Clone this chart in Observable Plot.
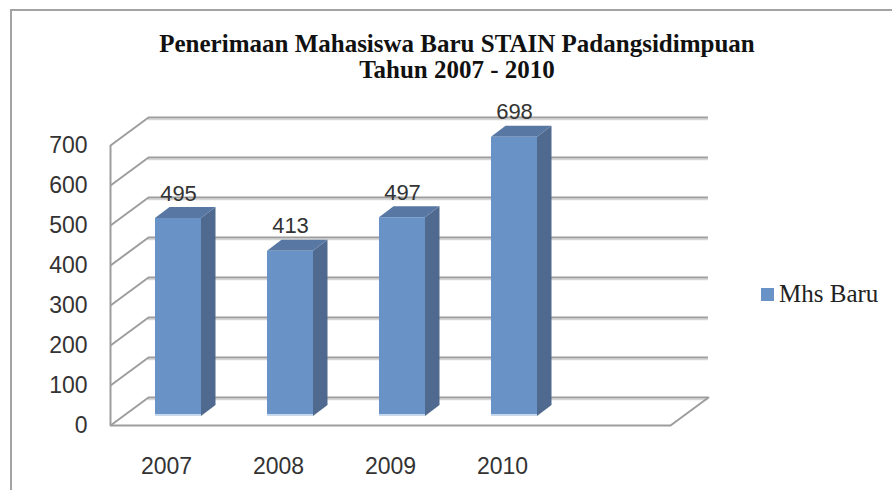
<!DOCTYPE html>
<html>
<head>
<meta charset="utf-8">
<script src="https://cdn.jsdelivr.net/npm/d3@7"></script>
<script src="https://cdn.jsdelivr.net/npm/@observablehq/plot@0.6"></script>
<style>
  html, body { margin: 0; padding: 0; background: #fff; }
  #wrap { position: relative; width: 892px; height: 490px; overflow: hidden; }
  #frame { position: absolute; left: 10px; top: 9px; width: 900px; height: 500px;
           border-left: 2px solid #a3a3a3; border-top: 2px solid #a3a3a3; }
  #title { position: absolute; left: 0; width: 914px; top: 31px; text-align: center;
           font-family: "Liberation Serif", "Times New Roman", serif; font-weight: bold;
           font-size: 25px; line-height: 26px; color: #111; }
  #legend { position: absolute; left: 761px; top: 280px; font-family: "Liberation Serif", serif;
            font-size: 25px; color: #222; white-space: nowrap; }
  #legend .sw { display: inline-block; width: 13px; height: 13px; background: #6993c6;
                margin-right: 5px; vertical-align: 1px; }
  #chart { position: absolute; left: 0; top: 0; }
</style>
</head>
<body>
<div id="wrap">
  <div id="frame"></div>
  <div id="chart"></div>
  <div id="title">Penerimaan Mahasiswa Baru STAIN Padangsidimpuan<br>Tahun 2007 - 2010</div>
  <div id="legend"><span class="sw"></span>Mhs Baru</div>
</div>
<script>
// ---- data ----
const years = ["2007", "2008", "2009", "2010"];
const mhsBaru = [495, 413, 497, 698];
const yTicks = [0, 100, 200, 300, 400, 500, 600, 700];
const seriesName = "Mhs Baru";

// ---- geometry (pixel -> data unit helpers) ----
const W = 892, H = 490;
const mL = 110, mR = W - 670, mT = 145, mB = H - 425;
const nSlots = 5;
const pxPerX = (W - mL - mR) / nSlots;   // 112
const pxPerY = (H - mT - mB) / 700;      // 0.4
const PX = p => p / pxPerX;
const PY = p => p / pxPerY;

const bx = PX(38), by = PY(28);      // back wall offset
const half = PX(23);                  // half bar width
const ddx = PX(14.5), ddy = PY(11);   // bar depth
const fdx = 12, fdy = -9;             // bar front plane offset (px)

const bars = years.map((yr, i) => ({i, yr, v: mhsBaru[i], xl: i + 0.5 - half, xr: i + 0.5 + half, xc: i + 0.5}));
const sideFaces = bars.flatMap(b => [
  {i: b.i, x: b.xr, y1: 0, y2: b.v},
  {i: b.i, x: b.xr + ddx, y1: ddy, y2: b.v + ddy}
]);
const topFaces = bars.flatMap(b => [
  {i: b.i, y: b.v, xa: b.xl, xb: b.xr},
  {i: b.i, y: b.v + ddy, xa: b.xl + ddx, xb: b.xr + ddx}
]);

const grid = "#9d9d9d";

const chart = Plot.plot({
  width: W, height: H,
  marginLeft: mL, marginRight: mR, marginTop: mT, marginBottom: mB,
  x: {type: "linear", domain: [0, nSlots]},
  y: {type: "linear", domain: [0, 700]},
  style: {fontFamily: "'Liberation Sans', Arial, sans-serif", fontSize: "23px", color: "#333", background: "transparent", overflow: "visible"},
  marks: [
    // back wall gridlines (with light shadow)
    Plot.ruleY(yTicks, {y: d => d + by, x1: bx, x2: nSlots + bx, stroke: "#d6d6d6", strokeWidth: 1.5, dy: 2}),
    Plot.ruleY(yTicks, {y: d => d + by, x1: bx, x2: nSlots + bx, stroke: grid, strokeWidth: 2}),
    // left wall diagonals
    Plot.link(yTicks, {x1: 0, y1: d => d, x2: bx, y2: d => d + by, stroke: grid, strokeWidth: 2}),
    // front-left vertical axis
    Plot.ruleX([0], {y1: 0, y2: 700, stroke: grid, strokeWidth: 2}),
    // floor front edge + right diagonal
    Plot.line([{x: 0, y: 0}, {x: nSlots, y: 0}, {x: nSlots + bx, y: by}], {x: "x", y: "y", stroke: grid, strokeWidth: 2}),
    // bars: side, top, front
    Plot.area(sideFaces, {x1: "x", y1: "y1", y2: "y2", z: "i", fill: "#4f6a8e", dx: fdx, dy: fdy}),
    Plot.area(topFaces, {y1: "y", x1: "xa", x2: "xb", z: "i", fill: "#5878a3", dx: fdx, dy: fdy}),
    Plot.rect(bars, {x1: "xl", x2: "xr", y1: 0, y2: "v", fill: "#6993c6", dx: fdx, dy: fdy}),
    Plot.rect(bars, {x1: "xl", x2: "xr", y1: 0, y2: PY(2), fill: "#c9d8ec", dx: fdx, dy: fdy}),
    // value labels
    Plot.text(bars, {x: "xc", y: "v", text: d => String(d.v), dx: fdx, dy: fdy - 25, lineAnchor: "middle", fontSize: 22, fill: "#333"}),
    // axes
    Plot.axisY(yTicks, {tickSize: 0, tickPadding: 23, label: null, fontSize: 23}),
    Plot.axisX(years.map((_, i) => i + 0.5), {tickSize: 0, tickPadding: 32, label: null, tickFormat: d => years[Math.floor(d)], fontSize: 23})
  ]
});
document.getElementById("chart").appendChild(chart);
</script>
</body>
</html>
